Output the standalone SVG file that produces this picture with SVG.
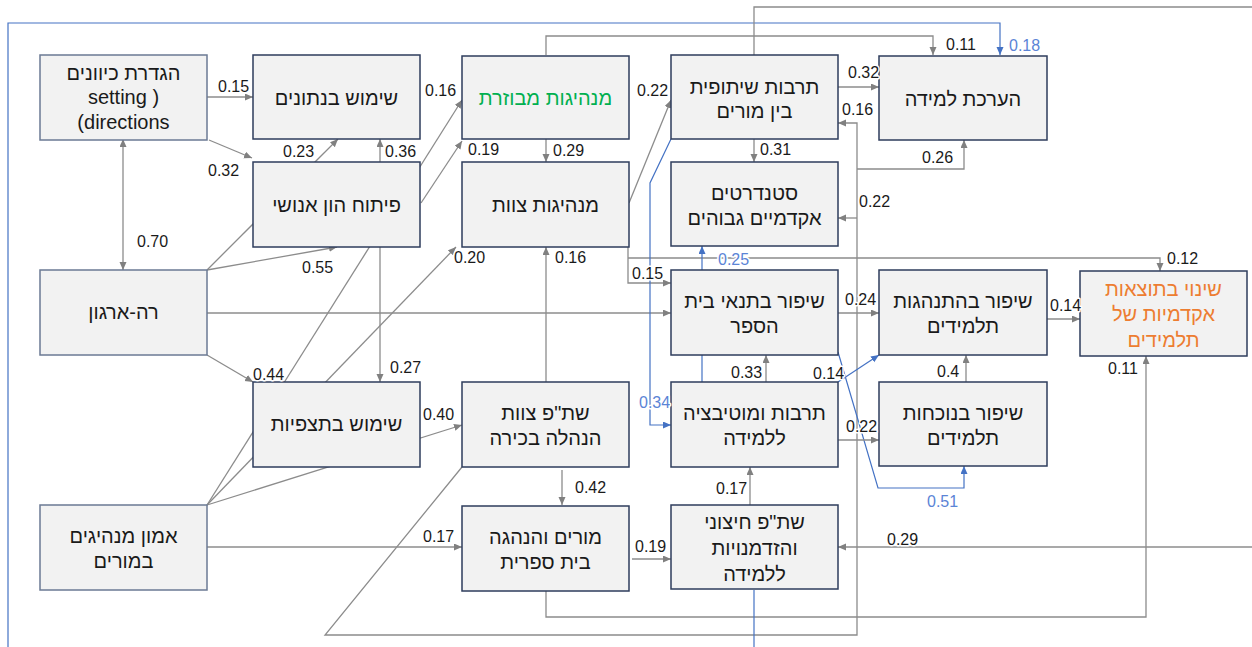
<svg xmlns="http://www.w3.org/2000/svg" width="1252" height="647" viewBox="0 0 1252 647">
<defs>
<marker id="ag" markerUnits="userSpaceOnUse" markerWidth="9" markerHeight="8" refX="8" refY="3.5" orient="auto-start-reverse"><path d="M0,0 L8,3.5 L0,7 z" fill="#808080"/></marker>
<marker id="ab" markerUnits="userSpaceOnUse" markerWidth="9" markerHeight="8" refX="8" refY="3.5" orient="auto-start-reverse"><path d="M0,0 L8,3.5 L0,7 z" fill="#4472c4"/></marker>
<style>
.c{fill:none;stroke:#8c8c8c;stroke-width:1.3}
.cb{fill:none;stroke:#4472c4;stroke-width:1.2}
.g{marker-end:url(#ag)}
.b{marker-end:url(#ab)}
.box{fill:#f2f2f2;stroke:#2e3d5c;stroke-width:1.5}
.boxl{fill:#f2f2f2;stroke:#6b7a94;stroke-width:1.5}
.t{font-family:"Liberation Sans",Arial,sans-serif;font-size:20px;fill:#1a1a1a;text-anchor:middle}
.h{direction:rtl}
.lt{direction:ltr;unicode-bidi:bidi-override}
.l{font-family:"Liberation Sans",Arial,sans-serif;font-size:16px;fill:#1a1a1a;stroke:#ffffff;stroke-width:3;paint-order:stroke;stroke-linejoin:round}
.lb{fill:#5b84d6}
</style>
</defs>
<g id="connectors">
<path class="cb b" d="M8,647 V23 H1000 V55"/>
<path class="c" d="M754,55 V7 H1252"/>
<path class="c g" d="M546,55 V36 H933 V55"/>
<path class="c g" d="M207,97 H253"/>
<path class="c g" d="M209,140 L252,158"/>
<path class="c g" d="M207,270 L338,139"/>
<path class="c g" d="M380,162 V139"/>
<path class="c" d="M123,139 V270" marker-start="url(#ag)" marker-end="url(#ag)"/>
<path class="c g" d="M207,505 L462,100"/>
<path class="c g" d="M421,203 L462,141"/>
<path class="c g" d="M546,139 V162"/>
<path class="c g" d="M629,203 L671,100"/>
<path class="c g" d="M838,87 H879"/>
<path class="c g" d="M754,139 V162"/>
<path class="c g" d="M462,467 L325,635 H857 V123 H838"/>
<path class="c g" d="M857,218 H838"/>
<path class="c g" d="M857,169 H964 V140"/>
<path class="c g" d="M380,247 V382"/>
<path class="c g" d="M207,270 L337,247"/>
<path class="c g" d="M207,313 H671"/>
<path class="c g" d="M207,355 L253,382"/>
<path class="c g" d="M207,505 L456,247"/>
<path class="c g" d="M546,382 V247"/>
<path class="c g" d="M628,247 V283 H671"/>
<path class="c g" d="M628,258 H1160 V271"/>
<path class="cb b" d="M702,382 V246"/>
<path class="cb b" d="M671,139 L650,183 V425 H671"/>
<path class="c g" d="M838,313 H879"/>
<path class="c g" d="M766,382 V355"/>
<path class="cb b" d="M838,382 L879,355"/>
<path class="cb b" d="M838,352 L878,488 H964 V466"/>
<path class="c g" d="M838,440 H879"/>
<path class="c g" d="M966,382 V355"/>
<path class="c g" d="M1047,319 H1080"/>
<path class="c g" d="M546,590 V617 H1146 V356"/>
<path class="c g" d="M207,547 H462"/>
<path class="c g" d="M207,505 L462,425"/>
<path class="c g" d="M562,470 V505"/>
<path class="c g" d="M632,559 H671"/>
<path class="c g" d="M750,505 V467"/>
<path class="c g" d="M1252,547 H838"/>
<path class="cb" d="M754,590 V647"/>
</g>
<g id="n1"><rect class="boxl" x="40" y="55" width="167" height="85"/><text class="t h" x="123.5" y="80">הגדרת כיוונים</text><text class="t lt" x="123.5" y="104">setting )</text><text class="t lt" x="123.5" y="129">(directions</text></g>
<g id="n2"><rect class="box" x="253" y="55" width="167" height="84"/><text class="t h" x="336.5" y="105">שימוש בנתונים</text></g>
<g id="n3"><rect class="box" x="462" y="56" width="167" height="83"/><text class="t h" x="545.5" y="105" style="fill:#00b050">מנהיגות מבוזרת</text></g>
<g id="n4"><rect class="box" x="671" y="55" width="167" height="84"/><text class="t h" x="754.5" y="94">תרבות שיתופית</text><text class="t h" x="754.5" y="118">בין מורים</text></g>
<g id="n5"><rect class="box" x="879" y="56" width="168" height="84"/><text class="t h" x="963" y="106">הערכת למידה</text></g>
<g id="n6"><rect class="box" x="253" y="162" width="167" height="85"/><text class="t h" x="336.5" y="212">פיתוח הון אנושי</text></g>
<g id="n7"><rect class="box" x="462" y="162" width="167" height="85"/><text class="t h" x="545.5" y="212">מנהיגות צוות</text></g>
<g id="n8"><rect class="box" x="671" y="162" width="167" height="84"/><text class="t h" x="754.5" y="200">סטנדרטים</text><text class="t h" x="754.5" y="225">אקדמיים גבוהים</text></g>
<g id="n9"><rect class="boxl" x="40" y="270" width="167" height="85"/><text class="t h" x="123.5" y="319">רה-ארגון</text></g>
<g id="n10"><rect class="box" x="671" y="270" width="167" height="85"/><text class="t h" x="754.5" y="308">שיפור בתנאי בית</text><text class="t h" x="754.5" y="333">הספר</text></g>
<g id="n11"><rect class="box" x="879" y="270" width="168" height="85"/><text class="t h" x="963" y="308">שיפור בהתנהגות</text><text class="t h" x="963" y="333">תלמידים</text></g>
<g id="n12"><rect class="box" x="1080" y="271" width="167" height="85"/><text class="t h" x="1163.5" y="296" style="fill:#ed7d31">שינוי בתוצאות</text><text class="t h" x="1163.5" y="321" style="fill:#ed7d31">אקדמיות של</text><text class="t h" x="1163.5" y="347" style="fill:#ed7d31">תלמידים</text></g>
<g id="n13"><rect class="box" x="253" y="382" width="167" height="85"/><text class="t h" x="336.5" y="431">שימוש בתצפיות</text></g>
<g id="n14"><rect class="box" x="462" y="382" width="167" height="85"/><text class="t h" x="545.5" y="420">שת"פ צוות</text><text class="t h" x="545.5" y="445">הנהלה בכירה</text></g>
<g id="n15"><rect class="box" x="671" y="382" width="167" height="85"/><text class="t h" x="754.5" y="420">תרבות ומוטיבציה</text><text class="t h" x="754.5" y="445">ללמידה</text></g>
<g id="n16"><rect class="box" x="879" y="382" width="168" height="84"/><text class="t h" x="963" y="420">שיפור בנוכחות</text><text class="t h" x="963" y="445">תלמידים</text></g>
<g id="n17"><rect class="boxl" x="40" y="505" width="167" height="85"/><text class="t h" x="123.5" y="543">אמון מנהיגים</text><text class="t h" x="123.5" y="568">במורים</text></g>
<g id="n18"><rect class="box" x="462" y="506" width="167" height="85"/><text class="t h" x="545.5" y="544">מורים והנהגה</text><text class="t h" x="545.5" y="569">בית ספרית</text></g>
<g id="n19"><rect class="box" x="671" y="505" width="167" height="84"/><text class="t h" x="754.5" y="529">שת"פ חיצוני</text><text class="t h" x="754.5" y="555">והזדמנויות</text><text class="t h" x="754.5" y="581">ללמידה</text></g>
<g id="edge-labels">
<text class="l" x="218" y="92">0.15</text>
<text class="l" x="208" y="176">0.32</text>
<text class="l" x="283" y="157">0.23</text>
<text class="l" x="385" y="157">0.36</text>
<text class="l" x="425" y="96">0.16</text>
<text class="l" x="468" y="155">0.19</text>
<text class="l" x="553" y="156">0.29</text>
<text class="l" x="637" y="96">0.22</text>
<text class="l" x="848" y="78">0.32</text>
<text class="l" x="842" y="115">0.16</text>
<text class="l" x="922" y="163">0.26</text>
<text class="l" x="946" y="50">0.11</text>
<text class="l lb" x="1009" y="51">0.18</text>
<text class="l" x="760" y="155">0.31</text>
<text class="l" x="859" y="207">0.22</text>
<text class="l" x="137" y="247">0.70</text>
<text class="l" x="302" y="273">0.55</text>
<text class="l" x="253" y="380">0.44</text>
<text class="l" x="390" y="373">0.27</text>
<text class="l" x="454" y="263">0.20</text>
<text class="l" x="555" y="263">0.16</text>
<text class="l" x="632" y="279">0.15</text>
<text class="l lb" x="718" y="265">0.25</text>
<text class="l" x="1167" y="264">0.12</text>
<text class="l" x="845" y="305">0.24</text>
<text class="l" x="1050" y="311">0.14</text>
<text class="l" x="813" y="379">0.14</text>
<text class="l" x="731" y="378">0.33</text>
<text class="l" x="937" y="377">0.4</text>
<text class="l" x="1108" y="374">0.11</text>
<text class="l lb" x="639" y="408">0.34</text>
<text class="l" x="423" y="420">0.40</text>
<text class="l" x="846" y="432">0.22</text>
<text class="l lb" x="927" y="507">0.51</text>
<text class="l" x="575" y="493">0.42</text>
<text class="l" x="716" y="494">0.17</text>
<text class="l" x="423" y="542">0.17</text>
<text class="l" x="635" y="552">0.19</text>
<text class="l" x="887" y="545">0.29</text>
</g>
</svg>
